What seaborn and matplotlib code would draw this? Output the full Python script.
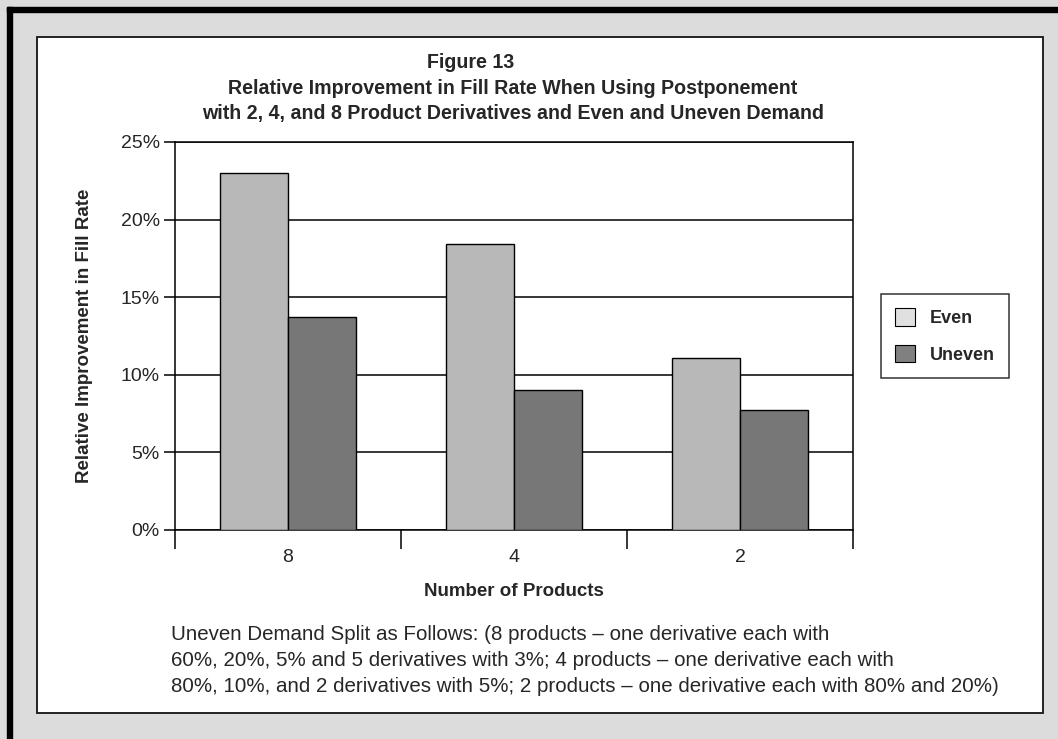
import matplotlib
matplotlib.use('Agg')
import matplotlib.pyplot as plt
import matplotlib.patches as mpatches
from matplotlib.ticker import PercentFormatter, FixedLocator
import seaborn as sns
import pandas as pd

# ── DATA ─────────────────────────────────────────────────────
products = ['8', '4', '2']
even = [23.0, 18.4, 11.1]
uneven = [13.7, 9.0, 7.7]
series = ['Even', 'Uneven']

title_lines = ['Figure 13',
               'Relative Improvement in Fill Rate When Using Postponement',
               'with 2, 4, and 8 Product Derivatives and Even and Uneven Demand']
note_lines = ['Uneven Demand Split as Follows: (8 products \u2013 one derivative each with',
              '60%, 20%, 5% and 5 derivatives with 3%; 4 products \u2013 one derivative each with',
              '80%, 10%, and 2 derivatives with 5%; 2 products \u2013 one derivative each with 80% and 20%)']

df = pd.DataFrame({
    'products': products * 2,
    'value': even + uneven,
    'demand': [series[0]] * len(products) + [series[1]] * len(products),
})

# ── STYLE ────────────────────────────────────────────────────
sns.set_style('white')
FONT = ['Liberation Sans', 'DejaVu Sans']
plt.rcParams['font.family'] = FONT

W, H = 1058, 739
fig = plt.figure(figsize=(W / 100, H / 100), dpi=100, facecolor='#dcdcdc')

def fx(px):
    return px / W

def fy(py):
    return 1 - py / H

# black frame (top + left), white panel behind the axes
fig.patches.append(mpatches.Rectangle((fx(7), fy(12)), 1, 5 / H,
                                      transform=fig.transFigure, color='black', zorder=-2))
fig.patches.append(mpatches.Rectangle((fx(7), 0), fx(5), fy(7),
                                      transform=fig.transFigure, color='black', zorder=-2))
fig.patches.append(mpatches.Rectangle((fx(37), fy(713)), fx(1043 - 37), fy(37) - fy(713),
                                      transform=fig.transFigure, facecolor='white',
                                      edgecolor='#222222', linewidth=1.4, zorder=-1))

ax = fig.add_axes([fx(175), fy(530), fx(853 - 175), fy(142) - fy(530)])
ax.set_zorder(1)
ax.set_facecolor('white')

sns.barplot(data=df, x='products', y='value', hue='demand', order=products,
            hue_order=series, palette=['#b8b8b8', '#777777'], width=0.6,
            edgecolor='black', linewidth=1.0, ax=ax, legend=False, zorder=3)

ax.set_ylim(0, 25)
ax.set_xlim(-0.5, 2.5)
ax.yaxis.set_major_locator(FixedLocator([0, 5, 10, 15, 20, 25]))
ax.yaxis.set_major_formatter(PercentFormatter(decimals=0))
ax.grid(axis='y', color='black', linewidth=1.1, zorder=0)
ax.set_axisbelow(True)
for s in ax.spines.values():
    s.set_color('black')
    s.set_linewidth(1.1)
    s.set_visible(True)

ax.tick_params(axis='y', which='major', direction='out', length=8, width=1.1,
               color='black', labelsize=14, pad=3, left=True)
ax.xaxis.set_minor_locator(FixedLocator([-0.5, 0.5, 1.5, 2.5]))
ax.tick_params(axis='x', which='minor', direction='out', length=14, width=1.1,
               color='black', bottom=True)
ax.tick_params(axis='x', which='major', length=0, labelsize=14, pad=14)

ax.set_xlabel('Number of Products', fontsize=13.5, fontweight='bold', labelpad=12)
ax.set_ylabel('Relative Improvement in Fill Rate', fontsize=13.5, fontweight='bold', labelpad=20)

# title
for i, (line, cx) in enumerate(zip(title_lines, [471, 513, 513])):
    fig.text(fx(cx), fy(62 + 26 * i), line, ha='center', va='center',
             fontsize=14.1, fontweight='bold')

# note
for i, line in enumerate(note_lines):
    fig.text(fx(171), fy(634 + 26 * i), line, ha='left', va='center', fontsize=14.8)

# legend
handles = [mpatches.Patch(facecolor='#e0e0e0', edgecolor='black', linewidth=0.8, label=series[0]),
           mpatches.Patch(facecolor='#808080', edgecolor='black', linewidth=0.8, label=series[1])]
leg = fig.legend(handles=handles, loc='center left', bbox_to_anchor=(fx(872), fy(336)),
                 frameon=True, fancybox=False, edgecolor='black',
                 prop={'weight': 'bold', 'size': 13, 'family': FONT},
                 handlelength=1.1, handleheight=1.1, labelspacing=1.0,
                 borderpad=0.8, handletextpad=0.8)
leg.get_frame().set_linewidth(1.1)

fig.savefig('out.png', dpi=100, facecolor=fig.get_facecolor())
